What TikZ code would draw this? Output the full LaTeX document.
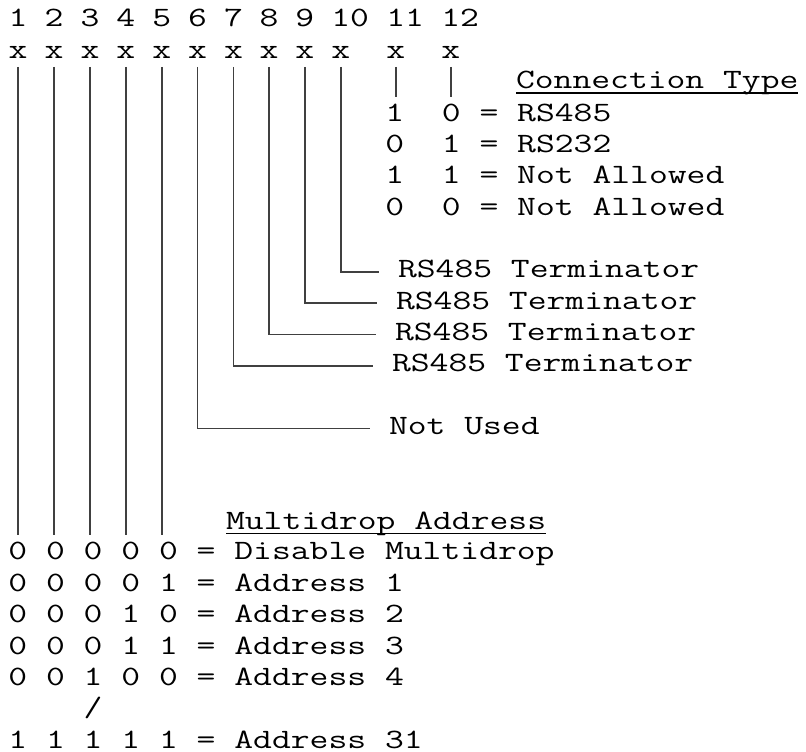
\documentclass[tikz,border=0pt]{standalone}
\usepackage{graphicx}
\usepackage{tikz}
\usetikzlibrary{calc}

% typewriter cells are stretched to the width of the reference's
\newcommand{\mono}[1]{\scalebox{1.306}[1]{#1}}

\begin{document}
\begin{tikzpicture}[
    x=1pt, y=-1pt,
    mono/.style={font=\fontsize{28}{28}\selectfont\ttfamily, inner sep=0pt, outer sep=0pt},
    wire/.style={draw=black!75, line width=1.5pt},
    uline/.style={line width=1.8pt}
]
\useasboundingbox (0,0) rectangle (806,752);

% Bit numbers and switches
\foreach \i/\xc in {1/17.3, 2/53.3, 3/89.3, 4/125, 5/161, 6/196.7, 7/232.7, 8/268.3, 9/304, 10/340, 11/395, 12/450}{
    \node[mono, anchor=base west] (n\i) at (\xc-8.6, 27) {\mono{\i}};
    \node[mono, anchor=base] (x\i) at (\xc+0.8, 59) {\mono{x}};
}

% Connection type
\node[mono, anchor=base west] (ct) at (516, 88.5) {\mono{Connection Type}};
\draw[uline] ([yshift=-4.5pt]ct.base west) -- ([yshift=-4.5pt]ct.base east);
\foreach \txt [count=\k] in {1~~0 = RS485, 0~~1 = RS232, 1~~1 = Not Allowed, 0~~0 = Not Allowed}
    \node[mono, anchor=base west] (c\k) at (385.4, {27+31.35*(\k+2)}) {\mono{\txt}};
\foreach \i in {11,12}
    \draw[wire] ([yshift=-8pt]x\i.base) -- ++(0,30);

% Terminators and unused bit
\foreach \i/\r/\xl/\txt in {10/8/398/RS485 Terminator, 9/9/396/RS485 Terminator, 8/10/395/RS485 Terminator, 7/11/392/RS485 Terminator, 6/13/389/Not Used}{
    \node[mono, anchor=base west] (t\i) at (\xl, {27+31.35*\r}) {\mono{\txt}};
    \draw[wire] ([yshift=-8pt]x\i.base) |- ([xshift=-19.5pt, yshift=6pt]t\i.base west);
}

% Multidrop address
\foreach \i in {1,...,5}
    \draw[wire] ([yshift=-8pt]x\i.base) -- ++(0,468);
\node[mono, anchor=base west] (ma) at (226, 529.5) {\mono{Multidrop Address}};
\draw[uline] ([yshift=-4pt]ma.base west) -- ([yshift=-4pt]ma.base east);
\foreach \r/\txt in {17/0 0 0 0 0 = Disable Multidrop, 18/0 0 0 0 1 = Address 1, 19/0 0 0 1 0 = Address 2, 20/0 0 0 1 1 = Address 3, 21/0 0 1 0 0 = Address 4, 23/1 1 1 1 1 = Address 31}
    \node[mono, anchor=base west] (m\r) at (8.4, {27+31.35*\r}) {\mono{\txt}};
\node[mono, anchor=base] (gap) at (93, 716.7) {\mono{/}};

\end{tikzpicture}
\end{document}
